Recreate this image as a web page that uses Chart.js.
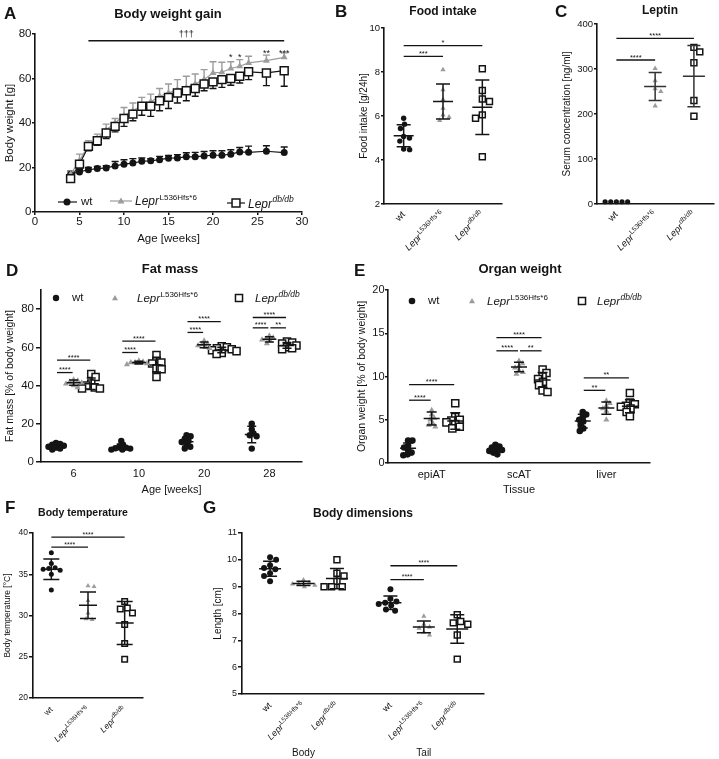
<!DOCTYPE html>
<html><head><meta charset="utf-8">
<script src="https://cdn.jsdelivr.net/npm/chart.js@4.4.0/dist/chart.umd.min.js"></script>
<style>
html,body{margin:0;padding:0;background:#fff;}
#wrap{position:relative;width:719px;height:759px;overflow:hidden;background:#fff;}
#wrap canvas{position:absolute;left:0;top:0;}
</style></head><body><div id="wrap"></div>
<script>
// ================= DATA =================
const groupNames = ['wt', 'Lepr', 'Lepr'];
const groupSups = ['', 'L536Hfs*6', 'db/db'];

// A: body weight gain (mean, SD)
const weeksA = [4,5,6,7,8,9,10,11,12,13,14,15,16,17,18,19,20,21,22,23,24,26,28];
const bwWtMean = [17,18,19,19.5,19.8,20.7,21.5,22,22.8,23,23.5,24.2,24.3,24.8,24.8,25.2,25.5,25.5,26,27,26.8,27.3,26.7];
const bwWtSd = [1.5,1,1,1,1,2,2,2,1.5,1,1.5,1.2,1.5,1.8,2,2,2,2,2,2,2.8,2.5,2.5];
const bwLepMean = [17,23,30,33,37,40,43.5,45.5,48,49.5,52,53.5,55,56,57.5,59.5,62.5,62.8,64.5,65.5,67,68,69.5];
const bwLepSd = [1.5,3,2,2,2.5,2,3.5,3.5,3.5,3.5,3.5,4,4.5,5,4.5,4.5,5,4.5,3,3,3,2.5,2];
const bwDbMean = [15,21.5,29.5,32,35.5,38.5,42,44,47.5,47.5,50,51.5,53.5,54.5,55.5,57.5,58.5,59.5,60,61,63,62.5,63.5];
const bwDbSd = [1.5,2,2,2,2.5,2.5,3.5,3,4,4.5,4.5,5,4.5,4.5,3.5,3,3,3.5,3,3,3.5,5.7,7];
const starWeeksA = [22,23,26,28];
const starLevelsA = [70.6,70.6,72.4,72.4];
const starLabelsA = ['*','*','**','***'];
const daggerSpanA = [6,28,77];

// B: food intake
const foodWt = [5.9,5.63,5.43,5.07,5.0,4.86,4.5,4.47];
const foodLep = [8.1,7.2,6.75,6.35,6.05,5.95,5.8];
const foodDb = [8.15,7.16,6.77,6.66,6.05,5.9,4.15];
const foodMean = [5.1,6.66,6.4];
const foodSd = [0.5,0.8,1.24];
const sigFood = [[0,1,8.71,'***'],[0,2,9.2,'*']];

// C: leptin
const leptinWt = [5,5,5,5,5];
const leptinLep = [301,274,256,250,218];
const leptinDb = [348,338,314,230,195];
const leptinMean = [5,261,284];
const leptinSd = [0.5,31,68];
const sigLeptin = [[0,1,320,'****'],[0,2,368,'****']];

// D: fat mass
const ageLabelsD = ['6','10','20','28'];
const fatWt6 = [10,9.5,9,8.5,8,7.5,7,6.5];
const fatLep6 = [43,42.5,42,41.5,41,40,39];
const fatDb6 = [46,44.5,41,40,39,38.5,38.5];
const fatWt10 = [11,9,8,7.5,7.2,7,6.5,6.5];
const fatLep10 = [53,52.5,52,52,51.5,51];
const fatDb10 = [56,53,52,51.5,49,48.5,44.5];
const fatWt20 = [14,13.5,12,11,10.5,9,8,7];
const fatLep20 = [63.5,62,61.5,61,60,59.5];
const fatDb20 = [60.5,60,59.5,59,58.5,58,57,56.5];
const fatWt28 = [20,17,15,14,13.5,7];
const fatLep28 = [66,65,64.5,64,63.5,62];
const fatDb28 = [63,62.5,62,61,60,59.5,59];
const fatWtMean = [8.3,7.9,10.6,14.4];
const fatWtSd = [1.3,1.5,2.4,4.3];
const fatLepMean = [41.5,52,61.3,64.2];
const fatLepSd = [1.4,0.7,1.5,1.4];
const fatDbMean = [40.9,50.8,58.6,61];
const fatDbSd = [3.0,3.7,1.4,1.5];
// [group, from, to, level, label]  (0 = wt, 1 = L536Hfs*6, 2 = db/db)
const sigFat = [[0,0,1,46.8,'****'],[0,0,2,53.3,'****'],[1,0,1,57.3,'****'],[1,0,2,63.2,'****'],
                [2,0,1,67.8,'****'],[2,0,2,73.4,'****'],[3,0,1,70.2,'****'],[3,1,2,70.2,'**'],[3,0,2,75.6,'****']];

// E: organ weight
const tissuesE = ['epiAT','scAT','liver'];
const orgEpiWt = [2.6,2.6,2.0,1.8,1.5,1.2,1.0,0.9];
const orgEpiLep = [6.1,5.6,5.2,5.0,4.6,4.4,4.2];
const orgEpiDb = [6.9,5.3,5.0,4.9,4.7,4.5,4.2,4.0];
const orgScWt = [2.1,1.9,1.8,1.6,1.5,1.4,1.2,1.0];
const orgScLep = [11.8,11.5,11.2,11.0,10.7,10.5,10.3];
const orgScDb = [10.8,10.4,10.0,9.7,9.4,9.0,8.4,8.2];
const orgLivWt = [5.9,5.6,5.3,5.0,4.8,4.4,4.0,3.7];
const orgLivLep = [7.2,6.9,6.6,6.3,6.0,5.0];
const orgLivDb = [8.1,7.0,6.8,6.6,6.5,6.3,5.9,5.4];
const orgWtMean = [1.7,1.55,4.85];
const orgWtSd = [0.6,0.3,0.8];
const orgLepMean = [5.15,11.1,6.35];
const orgLepSd = [0.75,0.55,0.7];
const orgDbMean = [4.85,9.6,6.55];
const orgDbSd = [0.95,0.85,0.75];
const sigOrg = [[0,0,1,7.26,'****'],[0,0,2,9.07,'****'],[1,0,1,12.97,'****'],[1,1,2,12.97,'**'],
                [1,0,2,14.5,'****'],[2,0,1,8.4,'**'],[2,0,2,9.85,'**']];

// F: body temperature
const tempWt = [37.6,36.3,35.8,35.7,35.6,35.5,35.0,33.1];
const tempLep = [33.6,33.5,31.8,30.3,29.6,29.5];
const tempDb = [31.7,30.9,30.8,30.3,28.9,26.6,24.7];
const tempMean = [35.6,31.25,29.1];
const tempSd = [1.25,1.6,2.6];
const sigTemp = [[0,1,38.3,'****'],[0,2,39.5,'****']];

// G: body dimensions
const dimSections = ['Body','Tail'];
const lenBodyWt = [10.1,10.0,9.8,9.7,9.65,9.5,9.4,9.2];
const lenBodyLep = [9.25,9.15,9.1,9.1,9.05,9.0];
const lenBodyDb = [10.0,9.5,9.4,9.2,9.0,9.0,9.0];
const lenTailWt = [8.9,8.55,8.45,8.4,8.35,8.3,8.15,8.1];
const lenTailLep = [7.9,7.6,7.5,7.45,7.3,7.2];
const lenTailDb = [7.95,7.7,7.65,7.6,7.2,6.3];
const lenMean = [9.67,9.12,9.3,8.4,7.5,7.42];
const lenSd = [0.28,0.08,0.38,0.25,0.22,0.53];
const sigLen = [[3,4,9.26,'****'],[3,5,9.78,'****']];

// ================= DRAWING =================
const W = 719, H = 759;
const FONT = '"Liberation Sans", Arial, Helvetica, sans-serif';
const INK = '#141414';
const GREY = '#9c9c9c';
const AXW = 1.6;
Chart.defaults.font.family = FONT;
Chart.defaults.color = INK;
const wrap = document.getElementById('wrap');

function txt(ctx, s, x, y, font, align, base, color) {
  ctx.save(); ctx.font = font; ctx.textAlign = align || 'center'; ctx.textBaseline = base || 'middle';
  ctx.fillStyle = color || INK; ctx.fillText(s, x, y); ctx.restore();
}
function heading(ctx, letter, lx, ly, title, tx, ty, ts) {
  txt(ctx, letter, lx, ly, `bold 17px ${FONT}`, 'left');
  txt(ctx, title, tx, ty, `bold ${ts}px ${FONT}`);
}
function marker(ctx, kind, x, y, r) {
  ctx.save(); ctx.beginPath();
  if (kind === 'wt') { ctx.arc(x, y, r, 0, 2 * Math.PI); ctx.fillStyle = INK; ctx.fill(); }
  else if (kind === 'lep') { ctx.moveTo(x, y - r); ctx.lineTo(x + 0.866 * r, y + 0.5 * r); ctx.lineTo(x - 0.866 * r, y + 0.5 * r); ctx.closePath(); ctx.fillStyle = GREY; ctx.fill(); }
  else { const s = 0.7071 * r; ctx.rect(x - s, y - s, 2 * s, 2 * s); ctx.fillStyle = '#fff'; ctx.fill(); ctx.lineWidth = 1.5; ctx.strokeStyle = INK; ctx.stroke(); }
  ctx.restore();
}
// "Lepr" in italics with a superscript; y is the baseline
function lepr(ctx, x, y, sup, size, o) {
  o = o || {};
  const ss = o.supSize || size * 0.7;
  const fB = `italic ${size}px ${FONT}`, fS = `${sup === 'db/db' ? 'italic ' : ''}${ss}px ${FONT}`;
  ctx.save();
  ctx.font = fB; const wB = ctx.measureText('Lepr').width;
  ctx.font = fS; const wS = ctx.measureText(sup).width;
  ctx.translate(x, y); if (o.angle) ctx.rotate(o.angle);
  const x0 = o.align === 'right' ? -(wB + wS + 0.5) : 0;
  ctx.fillStyle = INK; ctx.textAlign = 'left'; ctx.textBaseline = 'alphabetic';
  ctx.font = fB; ctx.fillText('Lepr', x0, 0);
  ctx.font = fS; ctx.fillText(sup, x0 + wB + 0.5, -size * 0.42);
  ctx.restore();
}
function groupLabel(ctx, i, x, y, size, angle) {
  if (i === 0) {
    ctx.save(); ctx.translate(x, y); ctx.rotate(angle); ctx.font = `${size}px ${FONT}`;
    ctx.textAlign = 'right'; ctx.textBaseline = 'alphabetic'; ctx.fillStyle = INK;
    ctx.fillText(groupNames[0], 0, 0); ctx.restore();
  } else {
    lepr(ctx, x, y, groupSups[i], size, { align: 'right', angle: angle, supSize: size * 0.72 });
  }
}
function rotLabels(ctx, ch, positions, size, dy, dx) {
  const X = ch.scales.x, b = ch.chartArea.bottom;
  positions.forEach((p, i) => groupLabel(ctx, i % 3, X.getPixelForValue(p) + (dx || 0), b + dy, size, -Math.PI / 4));
}
function eb(ctx, ch, x, m, sd, o) {
  const X = ch.scales.x.getPixelForValue(x), Y = ch.scales.y;
  const ym = Y.getPixelForValue(m), yt = Y.getPixelForValue(m + sd), yb = Y.getPixelForValue(m - sd);
  ctx.save(); ctx.strokeStyle = o.color || INK; ctx.lineWidth = o.lw || 1.5; ctx.beginPath();
  if (o.meanHalf) { ctx.moveTo(X - o.meanHalf, ym); ctx.lineTo(X + o.meanHalf, ym); }
  if (o.mode !== 'down') { ctx.moveTo(X, ym); ctx.lineTo(X, yt); ctx.moveTo(X - o.cap, yt); ctx.lineTo(X + o.cap, yt); }
  if (o.mode !== 'up') { ctx.moveTo(X, ym); ctx.lineTo(X, yb); ctx.moveTo(X - o.cap, yb); ctx.lineTo(X + o.cap, yb); }
  ctx.stroke(); ctx.restore();
}
function sig(ctx, ch, x1, x2, yv, label, fs, trim) {
  const X = ch.scales.x, Y = ch.scales.y, t = trim || 0;
  const a = X.getPixelForValue(x1) + t, b = X.getPixelForValue(x2) - t, y = Y.getPixelForValue(yv);
  ctx.save(); ctx.strokeStyle = INK; ctx.lineWidth = 1.3; ctx.beginPath(); ctx.moveTo(a, y); ctx.lineTo(b, y); ctx.stroke(); ctx.restore();
  txt(ctx, label, (a + b) / 2, y - 0.5, `${fs}px ${FONT}`, 'center', 'alphabetic');
}
function swarmX(vals, center, pxY, pxX, d) {
  const order = vals.map((v, i) => i).sort((a, b) => vals[b] - vals[a]);
  const placed = [], res = new Array(vals.length);
  for (const i of order) {
    const y = vals[i] * pxY;
    const cands = [0];
    for (const p of placed) {
      const dy = Math.abs(p.y - y);
      if (dy < d) { const dx = Math.sqrt(d * d - dy * dy) + 0.01; cands.push(p.x + dx, p.x - dx); }
    }
    const ok = c => placed.every(p => (p.x - c) ** 2 + (p.y - y) ** 2 >= d * d - 0.01);
    const nPos = placed.filter(p => p.x > 0.1).length, nNeg = placed.filter(p => p.x < -0.1).length;
    let best = null;
    for (const c of cands) {
      if (!ok(c)) continue;
      if (best === null || Math.abs(c) < Math.abs(best) - 0.05 ||
          (Math.abs(Math.abs(c) - Math.abs(best)) <= 0.05 && ((c > 0 && nPos < nNeg) || (c < 0 && nNeg < nPos)))) best = c;
    }
    placed.push({ x: best, y: y });
    res[i] = center + best / pxX;
  }
  return res;
}
const STY = {
  wt: { ps: 'circle', bg: INK, bc: INK, bw: 0, d: r => 2 * r + 0.6 },
  lep: { ps: 'triangle', bg: GREY, bc: GREY, bw: 0, d: r => 1.75 * r + 1 },
  db: { ps: 'rect', bg: '#fff', bc: INK, bw: 1.5, d: r => 1.414 * r + 1.6 }
};
const KINDS = ['wt', 'lep', 'db'];
function geo(p, spread) { return { pxX: (p.area.r - p.area.l) / (p.x.max - p.x.min), pxY: (p.area.b - p.area.t) / (p.y.max - p.y.min), spread: spread || 1 }; }
function groupDs(vals, center, kind, r, g) {
  const s = STY[kind];
  const xs = swarmX(vals, center, g.pxY, g.pxX, s.d(r) * g.spread);
  return { data: vals.map((v, i) => ({ x: xs[i], y: v })), pointStyle: s.ps, pointRadius: r, pointHoverRadius: r,
    pointBackgroundColor: s.bg, pointBorderColor: s.bc, pointBorderWidth: s.bw, showLine: false, clip: false };
}
function lineDs(xs, ys, kind, r) {
  const s = STY[kind];
  return { data: xs.map((x, i) => ({ x: x, y: ys[i] })), showLine: true, borderColor: kind === 'lep' ? GREY : INK, borderWidth: 1.2,
    pointStyle: s.ps, pointRadius: r, pointHoverRadius: r, pointBackgroundColor: s.bg, pointBorderColor: s.bc,
    pointBorderWidth: s.bw, clip: false };
}

function panel(p) {
  const cv = document.createElement('canvas');
  cv.width = W; cv.height = H; cv.style.width = W + 'px'; cv.style.height = H + 'px';
  wrap.appendChild(cv);
  const a = p.area;
  const padLeft = p.yTitle.x - p.yTitle.size * 0.6;
  const yW = a.l - padLeft;
  const xH = p.xTitle ? (p.xTitle.y - a.b + p.xTitle.size * 0.6) : 40;
  const padBottom = H - a.b - xH;
  const xo = p.x, yo = p.y;
  const xScale = {
    type: 'linear', position: 'bottom', min: xo.min, max: xo.max,
    afterFit: s => { s.height = xH; },
    ticks: { display: !!(xo.labels || xo.step), stepSize: xo.step, autoSkip: false, maxRotation: 0, minRotation: 0,
      padding: xo.pad || 0, font: { size: xo.fs || 11 }, color: INK },
    grid: { display: true, drawOnChartArea: false, drawTicks: !!xo.tickLen, tickLength: xo.tickLen || 0, color: INK, lineWidth: 1.5 },
    border: { display: true, color: INK, width: AXW },
    title: p.xTitle ? { display: true, text: p.xTitle.text, font: { size: p.xTitle.size }, color: INK, padding: 0 } : { display: false }
  };
  if (xo.labels) {
    xScale.afterBuildTicks = s => { s.ticks = xo.labels.map((_, i) => ({ value: i })); };
    xScale.ticks.callback = v => xo.labels[Math.round(v)];
  }
  const yScale = {
    type: 'linear', position: 'left', min: yo.min, max: yo.max,
    afterFit: s => { s.width = yW; },
    ticks: { stepSize: yo.step, includeBounds: yo.includeBounds !== false, padding: yo.pad, font: { size: yo.fs }, color: INK },
    grid: { display: true, drawOnChartArea: false, drawTicks: true, tickLength: yo.tickLen, color: INK, lineWidth: 1.5 },
    border: { display: true, color: INK, width: AXW },
    title: { display: true, text: p.yTitle.text, font: { size: p.yTitle.size }, color: INK, padding: 0 }
  };
  return new Chart(cv, {
    type: 'scatter',
    data: { datasets: p.datasets },
    options: {
      responsive: false, maintainAspectRatio: false, animation: false, devicePixelRatio: 1, events: [],
      layout: { padding: { left: padLeft, top: a.t, right: W - a.r, bottom: padBottom } },
      plugins: { legend: { display: false }, tooltip: { enabled: false }, title: { display: false } },
      scales: { x: xScale, y: yScale }
    },
    plugins: [{ id: 'extras',
      beforeDatasetsDraw(ch) { if (p.before) p.before(ch, ch.ctx); },
      afterDatasetsDraw(ch) { if (p.after) p.after(ch, ch.ctx); } }]
  });
}

// ---------- Panel A ----------
const pA = { area: { l: 35, t: 34, r: 302, b: 212 },
  x: { min: 0, max: 30, step: 5, fs: 11.5, pad: 0, tickLen: 3 },
  y: { min: 0, max: 80, step: 20, fs: 11.5, pad: 0.5, tickLen: 3 },
  yTitle: { text: 'Body weight [g]', size: 11.5, x: 10 },
  xTitle: { text: 'Age [weeks]', size: 11.5, y: 239 } };
pA.datasets = [lineDs(weeksA, bwDbMean, 'db', 5.6), lineDs(weeksA, bwLepMean, 'lep', 4), lineDs(weeksA, bwWtMean, 'wt', 3.5)];
pA.before = (ch, ctx) => {
  weeksA.forEach((w, i) => {
    eb(ctx, ch, w, bwWtMean[i], bwWtSd[i], { mode: 'up', cap: 3.5, lw: 1.4 });
    eb(ctx, ch, w, bwLepMean[i], bwLepSd[i], { mode: 'up', cap: 3.5, lw: 1.4, color: GREY });
    eb(ctx, ch, w, bwDbMean[i], bwDbSd[i], { mode: 'down', cap: 3.5, lw: 1.4 });
  });
};
pA.after = (ch, ctx) => {
  const X = ch.scales.x, Y = ch.scales.y;
  const x1 = X.getPixelForValue(daggerSpanA[0]), x2 = X.getPixelForValue(daggerSpanA[1]), yl = Y.getPixelForValue(daggerSpanA[2]);
  ctx.save(); ctx.strokeStyle = INK; ctx.lineWidth = 1.6; ctx.beginPath(); ctx.moveTo(x1, yl); ctx.lineTo(x2, yl); ctx.stroke(); ctx.restore();
  txt(ctx, '\u2020\u2020\u2020', (x1 + x2) / 2, yl - 4, `9px ${FONT}`, 'center', 'alphabetic');
  starWeeksA.forEach((w, i) => txt(ctx, starLabelsA[i], X.getPixelForValue(w), Y.getPixelForValue(starLevelsA[i]) + 5.2, `9px ${FONT}`, 'center', 'alphabetic'));
  // legend
  ctx.save(); ctx.lineWidth = 1.2;
  ctx.strokeStyle = INK; ctx.beginPath(); ctx.moveTo(58, 202); ctx.lineTo(77, 202); ctx.stroke();
  ctx.strokeStyle = GREY; ctx.beginPath(); ctx.moveTo(110, 201); ctx.lineTo(132, 201); ctx.stroke();
  ctx.strokeStyle = INK; ctx.beginPath(); ctx.moveTo(227, 203); ctx.lineTo(245, 203); ctx.stroke();
  ctx.restore();
  marker(ctx, 'wt', 67, 202, 3.5); txt(ctx, groupNames[0], 81, 202, `11.5px ${FONT}`, 'left');
  marker(ctx, 'lep', 121, 201.5, 4); lepr(ctx, 135, 205, groupSups[1], 12, { supSize: 8 });
  marker(ctx, 'db', 236, 203, 5.6); lepr(ctx, 248, 207.5, groupSups[2], 12, { supSize: 8.5 });
  heading(ctx, 'A', 4, 14, 'Body weight gain', 168, 14, 13);
};
panel(pA);

// ---------- Panel B ----------
const pB = { area: { l: 384, t: 28, r: 502, b: 204 }, x: { min: -0.5, max: 2.5 },
  y: { min: 2, max: 10, step: 2, fs: 9.5, pad: 1, tickLen: 3 },
  yTitle: { text: 'Food intake [g/24h]', size: 10, x: 364 } };
const gB = geo(pB);
pB.datasets = [groupDs(foodWt, 0, 'wt', 2.7, gB), groupDs(foodLep, 1, 'lep', 3.1, gB), groupDs(foodDb, 2, 'db', 4.2, gB)];
pB.after = (ch, ctx) => {
  [0, 1, 2].forEach(i => eb(ctx, ch, i, foodMean[i], foodSd[i], { meanHalf: 10, cap: 7, lw: 1.5 }));
  sigFood.forEach(s => sig(ctx, ch, s[0], s[1], s[2], s[3], 7.5));
  rotLabels(ctx, ch, [0, 1, 2], 9.5, 11, 2);
  heading(ctx, 'B', 335, 12.5, 'Food intake', 443, 12, 12);
};
panel(pB);

// ---------- Panel C ----------
const pC = { area: { l: 597, t: 24, r: 717, b: 204 }, x: { min: -0.5, max: 2.5 },
  y: { min: 0, max: 400, step: 100, fs: 9.5, pad: 1, tickLen: 3 },
  yTitle: { text: 'Serum concentration [ng/ml]', size: 10, x: 567 } };
const gC = geo(pC);
pC.datasets = [groupDs(leptinWt, 0, 'wt', 2.6, gC), groupDs(leptinLep, 1, 'lep', 3.1, gC), groupDs(leptinDb, 2, 'db', 4.2, gC)];
pC.after = (ch, ctx) => {
  [0, 1, 2].forEach(i => eb(ctx, ch, i, leptinMean[i], leptinSd[i], { meanHalf: i ? 11 : 0, cap: i ? 6.5 : 0, lw: 1.5, color: '#333' }));
  sigLeptin.forEach(s => sig(ctx, ch, s[0], s[1], s[2], s[3], 7.5));
  rotLabels(ctx, ch, [0, 1, 2], 9.5, 11, 2);
  heading(ctx, 'C', 555, 12, 'Leptin', 660, 11, 12);
};
panel(pC);

// ---------- Panel D ----------
const OFFG = 0.27;
const pD = { area: { l: 41, t: 290, r: 302, b: 462 },
  x: { min: -0.5, max: 3.5, labels: ageLabelsD, fs: 11, pad: 5 },
  y: { min: 0, max: 90, step: 20, fs: 11.5, pad: 2, tickLen: 5, includeBounds: false },
  yTitle: { text: 'Fat mass [% of body weight]', size: 10.5, x: 10 },
  xTitle: { text: 'Age [weeks]', size: 11, y: 490 } };
const gD = geo(pD, 0.6);
const fatGroups = [[fatWt6, fatLep6, fatDb6], [fatWt10, fatLep10, fatDb10], [fatWt20, fatLep20, fatDb20], [fatWt28, fatLep28, fatDb28]];
const fatMeans = [fatWtMean, fatLepMean, fatDbMean], fatSds = [fatWtSd, fatLepSd, fatDbSd];
const radD = [3.2, 3.5, 5];
pD.datasets = [];
fatGroups.forEach((grp, g) => grp.forEach((vals, k) => pD.datasets.push(groupDs(vals, g + (k - 1) * OFFG, KINDS[k], radD[k], gD))));
pD.after = (ch, ctx) => {
  fatGroups.forEach((grp, g) => [0, 1, 2].forEach(k => eb(ctx, ch, g + (k - 1) * OFFG, fatMeans[k][g], fatSds[k][g], { meanHalf: 7, cap: 4.5, lw: 1.5 })));
  sigFat.forEach(s => sig(ctx, ch, s[0] + (s[1] - 1) * OFFG, s[0] + (s[2] - 1) * OFFG, s[3], s[4], 7.5, 1));
  marker(ctx, 'wt', 56, 298, 3.2); txt(ctx, groupNames[0], 72, 298, `11.5px ${FONT}`, 'left');
  marker(ctx, 'lep', 115, 298.5, 3.5); lepr(ctx, 137, 302, groupSups[1], 11.5, { supSize: 8 });
  marker(ctx, 'db', 239, 298, 5); lepr(ctx, 255, 302, groupSups[2], 11.5, { supSize: 8.5 });
  heading(ctx, 'D', 6, 271, 'Fat mass', 170, 269, 13);
};
panel(pD);

// ---------- Panel E ----------
const pE = { area: { l: 388, t: 290, r: 650, b: 463 },
  x: { min: -0.5, max: 2.5, labels: tissuesE, fs: 11, pad: 5 },
  y: { min: 0, max: 20, step: 5, fs: 11, pad: 0.5, tickLen: 3 },
  yTitle: { text: 'Organ weight [% of body weight]', size: 10.5, x: 362 },
  xTitle: { text: 'Tissue', size: 11, y: 490 } };
const gE = geo(pE, 0.6);
const orgGroups = [[orgEpiWt, orgEpiLep, orgEpiDb], [orgScWt, orgScLep, orgScDb], [orgLivWt, orgLivLep, orgLivDb]];
const orgMeans = [orgWtMean, orgLepMean, orgDbMean], orgSds = [orgWtSd, orgLepSd, orgDbSd];
const radE = [3.3, 3.5, 5];
pE.datasets = [];
orgGroups.forEach((grp, g) => grp.forEach((vals, k) => pE.datasets.push(groupDs(vals, g + (k - 1) * OFFG, KINDS[k], radE[k], gE))));
pE.after = (ch, ctx) => {
  orgGroups.forEach((grp, g) => [0, 1, 2].forEach(k => eb(ctx, ch, g + (k - 1) * OFFG, orgMeans[k][g], orgSds[k][g], { meanHalf: 8, cap: 5, lw: 1.5 })));
  sigOrg.forEach(s => sig(ctx, ch, s[0] + (s[1] - 1) * OFFG, s[0] + (s[2] - 1) * OFFG, s[3], s[4], 7.5, 1));
  marker(ctx, 'wt', 412, 301, 3.3); txt(ctx, groupNames[0], 428, 301, `11.5px ${FONT}`, 'left');
  marker(ctx, 'lep', 472, 301.5, 3.5); lepr(ctx, 487, 305, groupSups[1], 11.5, { supSize: 8 });
  marker(ctx, 'db', 582, 301, 5); lepr(ctx, 597, 305, groupSups[2], 11.5, { supSize: 8.5 });
  heading(ctx, 'E', 354, 271, 'Organ weight', 520, 269, 13);
};
panel(pE);

// ---------- Panel F ----------
const pF = { area: { l: 33, t: 533, r: 143, b: 698 }, x: { min: -0.5, max: 2.5 },
  y: { min: 20, max: 40, step: 5, fs: 8.5, pad: 1, tickLen: 4 },
  yTitle: { text: 'Body temperature [\u00B0C]', size: 8.5, x: 8 } };
const gF = geo(pF);
pF.datasets = [groupDs(tempWt, 0, 'wt', 2.5, gF), groupDs(tempLep, 1, 'lep', 2.9, gF), groupDs(tempDb, 2, 'db', 3.9, gF)];
pF.after = (ch, ctx) => {
  [0, 1, 2].forEach(i => eb(ctx, ch, i, tempMean[i], tempSd[i], { meanHalf: 9, cap: 8, lw: 1.5 }));
  sigTemp.forEach(s => sig(ctx, ch, s[0], s[1], s[2], s[3], 7));
  rotLabels(ctx, ch, [0, 1, 2], 8.5, 12, 2);
  heading(ctx, 'F', 5, 508, 'Body temperature', 83, 513, 10.5);
};
panel(pF);

// ---------- Panel G ----------
const posG = [1, 2, 3, 4.6, 5.6, 6.6];
const pG = { area: { l: 242, t: 533, r: 484, b: 694 }, x: { min: 0.16, max: 7.4 },
  y: { min: 5, max: 11, step: 1, fs: 9, pad: 1, tickLen: 4 },
  yTitle: { text: 'Length [cm]', size: 10, x: 218 } };
const gG = geo(pG);
const lenGroups = [lenBodyWt, lenBodyLep, lenBodyDb, lenTailWt, lenTailLep, lenTailDb];
pG.datasets = lenGroups.map((vals, i) => groupDs(vals, posG[i], KINDS[i % 3], [3, 3, 4.2][i % 3], gG));
pG.after = (ch, ctx) => {
  posG.forEach((x, i) => eb(ctx, ch, x, lenMean[i], lenSd[i], { meanHalf: 11, cap: 7, lw: 1.5 }));
  sigLen.forEach(s => sig(ctx, ch, posG[s[0]], posG[s[1]], s[2], s[3], 7));
  rotLabels(ctx, ch, posG, 9, 12, 2);
  const X = ch.scales.x;
  txt(ctx, dimSections[0], X.getPixelForValue(posG[1]), 753, `10px ${FONT}`);
  txt(ctx, dimSections[1], X.getPixelForValue(posG[4]), 753, `10px ${FONT}`);
  heading(ctx, 'G', 203, 508, 'Body dimensions', 363, 514, 12);
};
panel(pG);
</script></body></html>
